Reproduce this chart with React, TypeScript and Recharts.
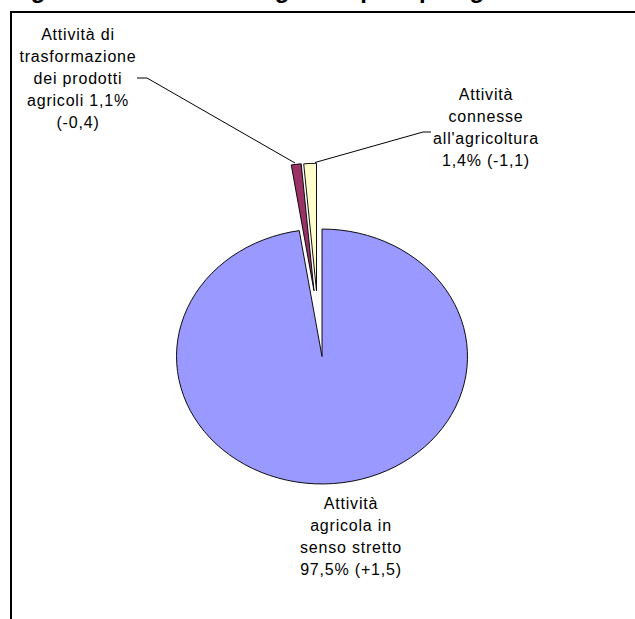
import { PieChart, Pie, Cell } from 'recharts';

const categories = [
  'Attività agricola in senso stretto',
  'Attività di trasformazione dei prodotti agricoli',
  "Attività connesse all'agricoltura",
];
const shares = [97.5, 1.1, 1.4];
const changes = ['+1,5', '-0,4', '-1,1'];
const colors = ['#9999FF', '#993366', '#FFFFCC'];

const pct = (i: number) => `${shares[i].toFixed(1).replace('.', ',')}%`;

const labelLines = [
  ['Attività', 'agricola in', 'senso stretto', `${pct(0)} (${changes[0]})`],
  ['Attività di', 'trasformazione', 'dei prodotti', `agricoli ${pct(1)}`, `(${changes[1]})`],
  ['Attività', 'connesse', "all'agricoltura", `${pct(2)} (${changes[2]})`],
];

const data = categories.map((name, i) => ({ name, value: shares[i] }));

// layout
const W = 635;
const H = 619;
const CX = 322;
const CY = 356.5;
const R = 145.5;
const SQUASH = 0.876; // pie is drawn as an ellipse in the original
const explode = [
  [0, 0],
  [-8, -75],
  [-5.5, -75],
];
const labelPos = [
  { x: 351, top: 492.5 },
  { x: 78, top: 23.5 },
  { x: 486, top: 83.5 },
];

const font = '"Liberation Sans", Arial, sans-serif';

export default function App() {
  return (
    <div style={{ position: 'relative', width: W, height: H, overflow: 'hidden', background: '#fff' }}>
      <style>{`body{margin:0}`}</style>

      {/* chart frame, cut off on the right and bottom */}
      <div
        style={{
          position: 'absolute',
          left: 10,
          top: 11,
          width: 800,
          height: 800,
          borderTop: '2px solid #000',
          borderLeft: '2px solid #000',
        }}
      />

      <div
        style={{
          position: 'absolute',
          left: 0,
          top: 0,
          width: W,
          height: H,
          transform: `scaleY(${SQUASH})`,
          transformOrigin: `0px ${CY}px`,
        }}
      >
        <PieChart width={W} height={H} margin={{ top: 0, right: 0, bottom: 0, left: 0 }}>
          {data.map((_, s) => (
            <Pie
              key={s}
              data={data}
              dataKey="value"
              cx={CX + explode[s][0]}
              cy={CY + explode[s][1]}
              outerRadius={R}
              startAngle={90}
              endAngle={-270}
              label={false}
              labelLine={false}
              isAnimationActive={false}
            >
              {data.map((d, i) => (
                <Cell
                  key={d.name}
                  fill={i === s ? colors[i] : 'none'}
                  stroke={i === s ? '#000' : 'none'}
                  strokeWidth={1}
                />
              ))}
            </Pie>
          ))}
        </PieChart>
      </div>

      <svg width={W} height={H} style={{ position: 'absolute', left: 0, top: 0, pointerEvents: 'none' }}>
        <text x={9.5} y={-2} fontFamily={font} fontSize={24} fontWeight="bold" fill="#000">
          Figura 4 - Produzione agricola per tipologia di attività
        </text>
        <polyline points="137,78 147,78 295,163" fill="none" stroke="#000" strokeWidth={1} />
        <polyline points="315,162.5 423,132 431,132" fill="none" stroke="#000" strokeWidth={1} />
      </svg>

      {labelLines.map((lines, i) => (
        <div
          key={i}
          style={{
            position: 'absolute',
            left: labelPos[i].x - 100,
            top: labelPos[i].top,
            width: 200,
            textAlign: 'center',
            fontFamily: font,
            fontSize: 16,
            lineHeight: '22px',
            letterSpacing: 0.8,
            color: '#000',
            whiteSpace: 'pre',
          }}
        >
          {lines.join('\n')}
        </div>
      ))}
    </div>
  );
}
